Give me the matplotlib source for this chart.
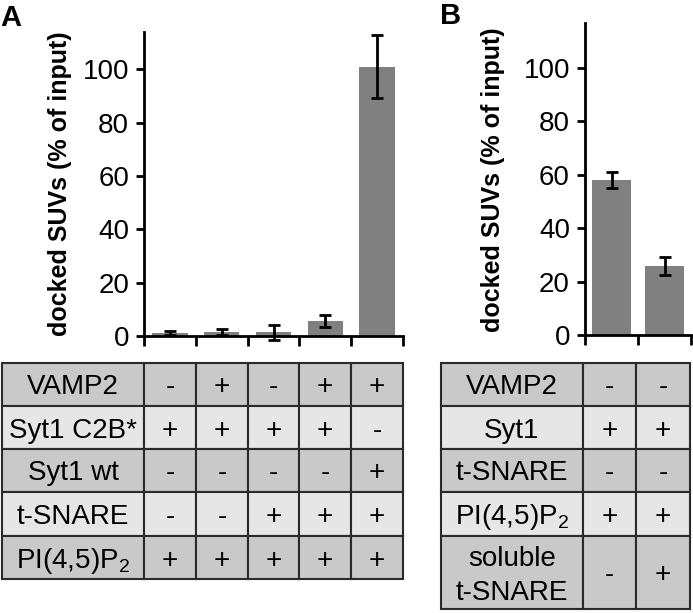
import matplotlib
matplotlib.use("Agg")
import matplotlib.pyplot as plt
from matplotlib.patches import Rectangle

plt.rcParams["font.family"] = ["Liberation Sans", "DejaVu Sans"]
plt.rcParams["mathtext.fontset"] = "custom"
plt.rcParams["mathtext.rm"] = "Liberation Sans"
plt.rcParams["mathtext.it"] = "Liberation Sans:italic"
plt.rcParams["mathtext.bf"] = "Liberation Sans:bold"

# panel A data
vals_a = [1.2, 1.4, 1.4, 5.5, 101.0]
errs_a = [0.8, 1.1, 2.9, 2.3, 11.8]
rows_a = ["VAMP2", "Syt1 C2B*", "Syt1 wt", "t-SNARE", "PI(4,5)P$_2$"]
cells_a = [
    ["-", "+", "-", "+", "+"],
    ["+", "+", "+", "+", "-"],
    ["-", "-", "-", "-", "+"],
    ["-", "-", "+", "+", "+"],
    ["+", "+", "+", "+", "+"],
]

# panel B data
vals_b = [58.0, 26.0]
errs_b = [3.0, 3.4]
rows_b = ["VAMP2", "Syt1", "t-SNARE", "PI(4,5)P$_2$", "soluble\nt-SNARE"]
cells_b = [
    ["-", "-"],
    ["+", "+"],
    ["-", "-"],
    ["+", "+"],
    ["-", "+"],
]

ylabel = "docked SUVs (% of input)"
W, H = 693, 613
DARK = "#c9c9c9"
LIGHT = "#e6e6e6"
BAR = "#808080"

fig = plt.figure(figsize=(W / 100, H / 100), dpi=100)


def px_axes(x0, y0, x1, y1):
    return fig.add_axes([x0 / W, 1 - y1 / H, (x1 - x0) / W, (y1 - y0) / H])


def bar_panel(ax, vals, errs, ytop, width):
    n = len(vals)
    xs = list(range(n))
    ax.bar(xs, vals, width=width, color=BAR, yerr=errs, capsize=4.5,
           error_kw=dict(elinewidth=2, capthick=2, ecolor="black", clip_on=False))
    ax.set_xlim(-0.5, n - 0.5)
    ax.set_ylim(0, ytop)
    ax.set_xticks([i - 0.5 for i in range(n + 1)])
    ax.set_xticklabels([])
    ax.set_yticks(range(0, 101, 20))
    ax.tick_params(axis="x", direction="out", length=7.5, width=2)
    ax.tick_params(axis="y", direction="out", length=5.8, width=2,
                   labelsize=20, pad=5)
    for s in ["top", "right"]:
        ax.spines[s].set_visible(False)
    for s in ["left", "bottom"]:
        ax.spines[s].set_linewidth(2)


ax_a = px_axes(144, 32, 403, 336)
bar_panel(ax_a, vals_a, errs_a, 114, 0.68)
ax_b = px_axes(585, 23, 691, 335)
bar_panel(ax_b, vals_b, errs_b, 116.9, 0.72)

fig.text(60 / W, 1 - 184 / H, ylabel, rotation=90, ha="center", va="center",
         fontsize=18, fontweight="bold")
fig.text(493 / W, 1 - 180 / H, ylabel, rotation=90, ha="center", va="center",
         fontsize=18, fontweight="bold")
fig.text(0 / W, 1 - 4 / H, "A", ha="left", va="top", fontsize=21, fontweight="bold")
fig.text(440 / W, 1 - 2 / H, "B", ha="left", va="top", fontsize=21, fontweight="bold")

# tables drawn on a pixel overlay
ov = fig.add_axes([0, 0, 1, 1], zorder=-1)
ov.set_xlim(0, W)
ov.set_ylim(H, 0)
ov.axis("off")


def draw_table(cols, rows_y, labels, cells):
    for r, lab in enumerate(labels):
        y0, y1 = rows_y[r], rows_y[r + 1]
        color = DARK if r % 2 == 0 else LIGHT
        yc = (y0 + y1) / 2
        for c in range(len(cols) - 1):
            x0, x1 = cols[c], cols[c + 1]
            ov.add_patch(Rectangle((x0, y0), x1 - x0, y1 - y0, facecolor=color,
                                   edgecolor="#2a2a2a", linewidth=1.5))
            xc = (x0 + x1) / 2
            if c == 0:
                lines = lab.split("\n")
                for i, line in enumerate(lines):
                    yb = yc + 10 + (i - (len(lines) - 1) / 2) * 34
                    ov.text(xc, yb, line, ha="center", va="baseline", fontsize=20)
            else:
                ov.text(xc, yc + 10, cells[r][c - 1], ha="center", va="baseline",
                        fontsize=20)


draw_table([2, 144, 196, 248, 299, 351, 403], [363, 406, 449, 492, 536, 579],
           rows_a, cells_a)
draw_table([441, 583, 636, 690], [363, 406, 449, 492, 536, 609],
           rows_b, cells_b)

fig.savefig("out.png", dpi=100)
